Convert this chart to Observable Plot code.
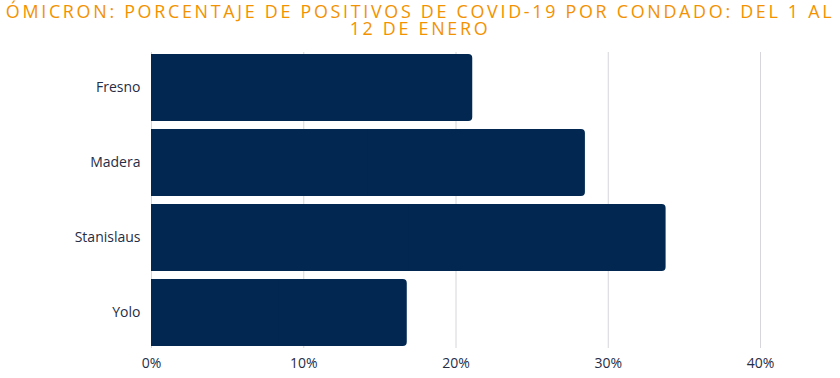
<!DOCTYPE html>
<html>
<head>
<meta charset="utf-8">
<script src="https://cdn.jsdelivr.net/npm/d3@7"></script>
<script src="https://cdn.jsdelivr.net/npm/@observablehq/plot@0.6"></script>
<style>
  html, body { margin: 0; padding: 0; background: #fff; }
  #title {
    width: 840px; height: 42px; box-sizing: border-box; padding-top: 3px;
    text-align: center; font-family: "Open Sans", sans-serif; font-size: 17.9px;
    line-height: 17px; letter-spacing: 2.7px; color: #F39200; text-transform: uppercase;
    white-space: pre-line;
  }
  #chart svg { display: block; }
</style>
</head>
<body>
<div id="title"></div>
<div id="chart"></div>
<script>
const titleLines = ["Ómicron: porcentaje de positivos de COVID-19 por condado: del 1 al", "12 de enero"];
const counties = ["Fresno", "Madera", "Stanislaus", "Yolo"];
const positivity = [0.211, 0.285, 0.338, 0.168];
const xTicks = [0, 0.1, 0.2, 0.3, 0.4];

document.getElementById("title").textContent = titleLines.join("\n");

const data = counties.map((c, i) => ({county: c, value: positivity[i]}));
const navy = "#022851";

const chart = Plot.plot({
  width: 840,
  height: 336,
  marginTop: 10,
  marginBottom: 30,
  marginLeft: 151,
  marginRight: 80,
  style: {fontFamily: "'Open Sans', sans-serif", fontSize: "14px", color: "#262d45", background: "#fff"},
  x: {domain: [0, 0.4], ticks: xTicks, tickFormat: d => Math.round(d * 100) + "%", label: null},
  y: {domain: counties, paddingInner: 0.105, paddingOuter: 0, label: null},
  marks: [
    Plot.ruleX(xTicks, {stroke: "#d6d6dc", strokeWidth: 1}),
    Plot.barX(data, {x: "value", y: "county", fill: navy, rx: 4}),
    Plot.barX(data, {x1: 0, x2: d => d.value / 2, y: "county", fill: navy}),
    Plot.axisX({ticks: xTicks, tickFormat: d => Math.round(d * 100) + "%", tickSize: 0, tickPadding: 10, label: null, fontSize: 14}),
    Plot.axisY({tickSize: 0, tickPadding: 11, label: null, fontSize: 14})
  ]
});
document.getElementById("chart").appendChild(chart);
</script>
</body>
</html>
